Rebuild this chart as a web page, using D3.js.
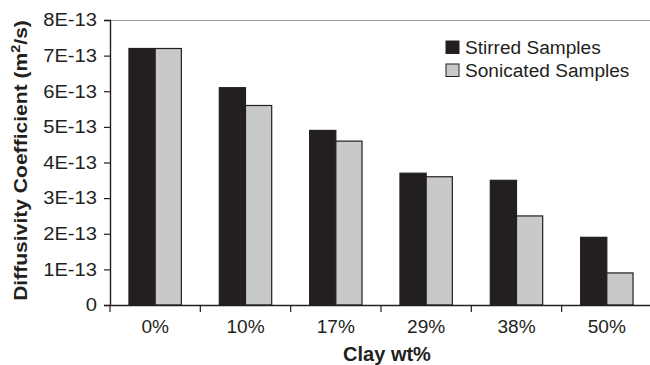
<!DOCTYPE html>
<html>
<head>
<meta charset="utf-8">
<script src="https://cdn.jsdelivr.net/npm/d3@7"></script>
<style>
  body { margin: 0; background: #fff; }
  svg { display: block; font-family: "Liberation Sans", Arial, sans-serif; }
</style>
</head>
<body>
<div id="chart"></div>
<script>
// Data
const categories = ["0%", "10%", "17%", "29%", "38%", "50%"];
const stirred = [7.2e-13, 6.1e-13, 4.9e-13, 3.7e-13, 3.5e-13, 1.9e-13];
const sonicated = [7.2e-13, 5.6e-13, 4.6e-13, 3.6e-13, 2.5e-13, 0.9e-13];
const seriesNames = ["Stirred Samples", "Sonicated Samples"];
const yTicks = [0, 1e-13, 2e-13, 3e-13, 4e-13, 5e-13, 6e-13, 7e-13, 8e-13];
const yTickLabels = ["0", "1E-13", "2E-13", "3E-13", "4E-13", "5E-13", "6E-13", "7E-13", "8E-13"];

const W = 650, H = 365;
const margin = { top: 20, right: -2, bottom: 60, left: 110 };
const width = W - margin.left - margin.right;
const height = H - margin.top - margin.bottom;
const colors = ["#231f20", "#c8c9cb"];

// the original uses a slightly wide face; stretch glyphs a bit
const stretch = (sel, k) => sel.each(function() {
    const len = this.getComputedTextLength();
    d3.select(this).attr("textLength", len * k).attr("lengthAdjust", "spacingAndGlyphs");
});

const svg = d3.select("#chart").append("svg")
    .attr("width", W).attr("height", H);

const g = svg.append("g").attr("transform", `translate(${margin.left},${margin.top})`);

const x = d3.scaleBand().domain(categories).range([0, width]).paddingInner(0).paddingOuter(0);
const y = d3.scaleLinear().domain([0, 8e-13]).range([height, 0]);
const inner = d3.scaleBand().domain([0, 1]).range([x.bandwidth() * 0.21, x.bandwidth() * 0.79]);

// plot border (top/right)
g.append("path")
    .attr("d", `M0,0.5H${width}V${height}`)
    .attr("fill", "none").attr("stroke", "#9a9a9a").attr("stroke-width", 1.2);

// Bars
const rows = categories.map((c, i) => ({ cat: c, vals: [stirred[i], sonicated[i]] }));
const groups = g.selectAll(".grp").data(rows).join("g")
    .attr("transform", d => `translate(${x(d.cat)},0)`);
groups.selectAll("rect").data(d => d.vals).join("rect")
    .attr("x", (d, i) => inner(i))
    .attr("y", d => y(d))
    .attr("width", inner.bandwidth())
    .attr("height", d => height - y(d))
    .attr("fill", (d, i) => colors[i])
    .attr("stroke", "#231f20").attr("stroke-width", 1.2);

// Axes
const yAxis = g.append("g")
    .call(d3.axisLeft(y).tickValues(yTicks).tickFormat((d, i) => yTickLabels[i]).tickSize(6).tickPadding(7));
const xAxis = g.append("g")
    .attr("transform", `translate(0,${height})`)
    .call(d3.axisBottom(x).tickSize(0).tickPadding(15));

// category separator ticks
xAxis.selectAll(".sep").data(categories).join("line")
    .attr("class", "sep")
    .attr("x1", d => x(d)).attr("x2", d => x(d))
    .attr("y1", 0).attr("y2", 7)
    .attr("stroke", "#231f20").attr("stroke-width", 1.2);

[xAxis, yAxis].forEach(axis => {
    axis.selectAll("text")
        .style("font-family", "'Liberation Sans', Arial, sans-serif")
        .style("font-size", "18px")
        .style("fill", "#231f20");
    axis.select(".domain").attr("stroke", "#231f20").attr("stroke-width", 1.4);
    axis.selectAll(".tick line").attr("stroke", "#231f20").attr("stroke-width", 1.2);
});
stretch(yAxis.selectAll("text"), 1.12);
stretch(xAxis.selectAll("text"), 1.06);

// Titles
svg.append("text")
    .attr("x", 387).attr("y", 361)
    .attr("text-anchor", "middle")
    .style("font-size", "20px").style("font-weight", "700").style("fill", "#231f20")
    .text("Clay wt%");

const ytG = svg.append("g").attr("transform", "translate(27,160.5) rotate(-90)");
const yt = ytG.append("text")
    .attr("text-anchor", "middle")
    .style("font-size", "17.5px").style("font-weight", "700").style("fill", "#231f20");
yt.append("tspan").text("Diffusivity Coefficient (m");
yt.append("tspan").attr("dy", -7).style("font-size", "12px").text("2");
yt.append("tspan").attr("dy", 7).text("/s)");
const ytLen = yt.node().getBBox().width;
yt.attr("transform", `scale(${281 / ytLen},1)`);

// Legend
const legend = svg.append("g").attr("transform", "translate(446,41)");
seriesNames.forEach((name, i) => {
    const row = legend.append("g").attr("transform", `translate(0,${i * 23})`);
    row.append("rect").attr("x", 0).attr("y", 0).attr("width", 13).attr("height", 12.5)
        .attr("fill", colors[i]).attr("stroke", "#231f20").attr("stroke-width", 1);
    row.append("text").attr("x", 19).attr("y", 12.5)
        .style("font-size", "18px").style("fill", "#231f20").text(name)
        .call(s => stretch(s, 1.06));
});
</script>
</body>
</html>
